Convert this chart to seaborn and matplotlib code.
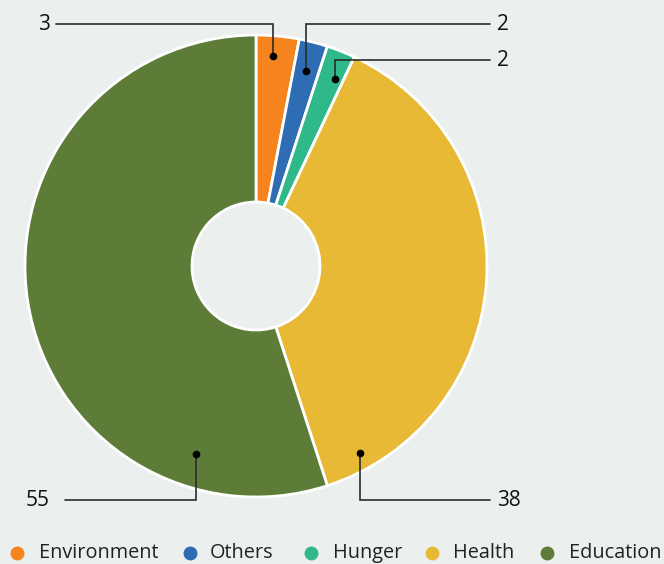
import matplotlib
matplotlib.use("Agg")
import matplotlib.pyplot as plt
import seaborn as sns
import numpy as np

categories = ["Environment", "Others", "Hunger", "Health", "Education"]
values = [3, 2, 2, 38, 55]
value_labels = ["3", "2", "2", "38", "55"]
colors = ["#F5841F", "#2E6DB4", "#2FB98A", "#E8B935", "#5C7C38"]

BG = "#EBEFED"
sns.set_theme(style="white")
plt.rcParams['font.family'] = ['Open Sans', 'DejaVu Sans']

W, H = 664, 564
fig = plt.figure(figsize=(6.64, 5.64), dpi=100, facecolor=BG)
ax = fig.add_axes([0, 0, 1, 1])
ax.set_facecolor(BG)

cx, cy_px, R, r_in = 256, 266, 231, 64
cy = H - cy_px
wedges, _ = ax.pie(values, colors=colors, startangle=90, counterclock=False,
                   center=(cx, cy), radius=R,
                   wedgeprops=dict(width=R - r_in, edgecolor='white', linewidth=2))
ax.set_xlim(0, W)
ax.set_ylim(0, H)
ax.set_aspect('equal')
ax.axis('off')

# annotation layout: (fraction along wedge clockwise, radius, elbow y px, line end x, text x, ha)
layout = [
    (0.43, 211, 24, 56, 50, 'right'),
    (0.50, 201, 24, 490, 497, 'left'),
    (0.68, 203, 60, 490, 497, 'left'),
    (0.92, 214, 500, 490, 497, 'left'),
    (0.18, 197, 500, 65, 50, 'right'),
]
line_c = "#2b2b2b"
for w, lab, (f, rr, ey, ex, tx, ha) in zip(wedges, value_labels, layout):
    ang = np.deg2rad(w.theta2 - f * (w.theta2 - w.theta1))
    px = cx + rr * np.cos(ang)
    py = cy + rr * np.sin(ang)
    ey_d = H - ey
    ax.plot([px, px, ex], [py, ey_d, ey_d], color=line_c, lw=1.2, solid_joinstyle='miter')
    ax.plot([px], [py], 'o', color='black', ms=4.5)
    ax.text(tx, ey_d, lab, ha=ha, va='center', fontsize=15, color='#111111')

# legend
dot_x = [17, 190, 311, 432, 547]
txt_x = [39, 210, 333, 453, 569]
ly = H - 553
for c, name, dx, tx in zip(colors, categories, dot_x, txt_x):
    ax.plot([dx], [ly], 'o', color=c, ms=9, clip_on=False)
    ax.text(tx, ly, name, ha='left', va='center', fontsize=14.3, color='#222222')

fig.savefig("out.png", dpi=100, facecolor=BG)
